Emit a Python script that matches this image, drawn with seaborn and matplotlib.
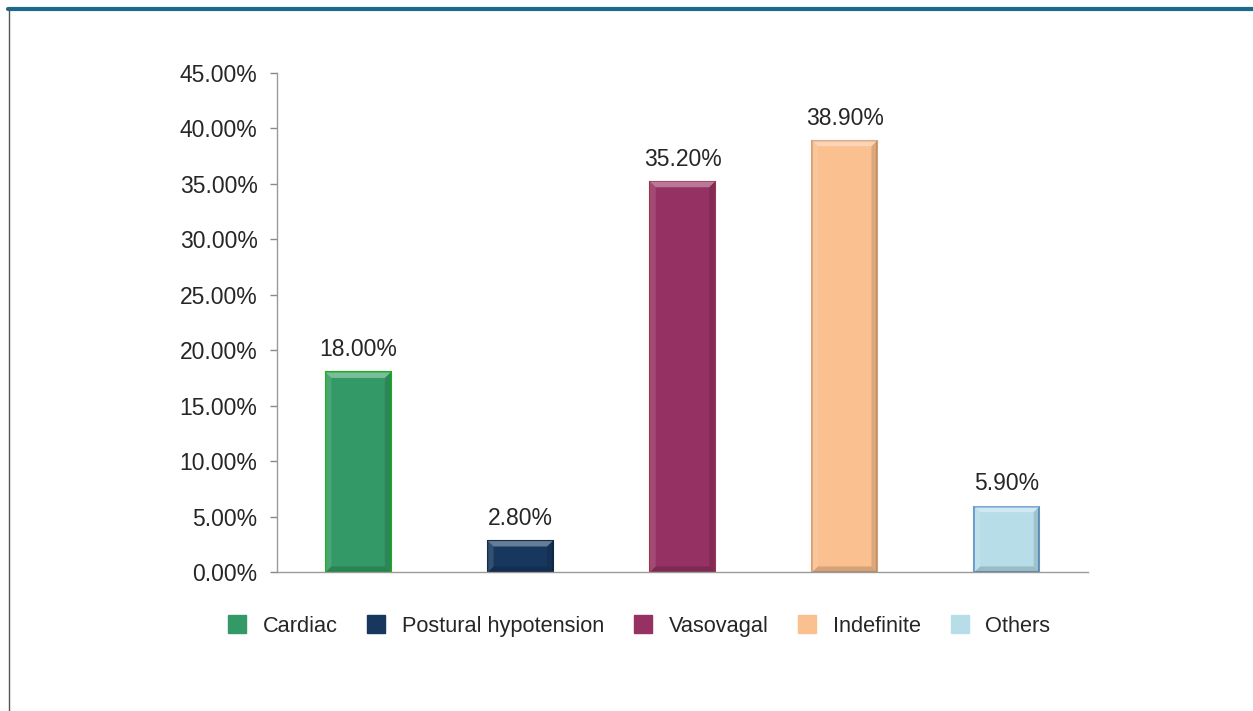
import matplotlib.pyplot as plt
import matplotlib.patches as mpatches
import matplotlib.lines as mlines
import pandas as pd
import seaborn as sns
from matplotlib.ticker import FuncFormatter, MultipleLocator

categories = ["Cardiac", "Postural hypotension", "Vasovagal", "Indefinite", "Others"]
values = [18.0, 2.8, 35.2, 38.9, 5.9]
face_colors = ["#339966", "#17375E", "#953163", "#FAC090", "#B7DEE8"]
edge_colors = ["#1FA82A", "#102A48", "#9A3550", "#D9A276", "#6A9CCB"]

df = pd.DataFrame({"category": categories, "value": values})

sns.set_style("white")
plt.rcParams["font.family"] = ["Liberation Sans", "DejaVu Sans"]
FS = 16.5

fig = plt.figure(figsize=(12.53, 7.11), dpi=100)
ax = fig.add_axes([0.2211, 0.1955, 0.6472, 0.7018])

sns.barplot(
    data=df,
    x="category",
    y="value",
    hue="category",
    palette=dict(zip(categories, face_colors)),
    saturation=1,
    width=0.4,
    legend=False,
    ax=ax,
)

ax.set_ylim(0, 45)
ax.set_xlim(-0.5, 4.5)

# bevelled look: light top / dark bottom strips inside each bar
bx = 0.035   # bevel width in x data units
by = 0.5     # bevel height in y data units
for patch, ec in zip(ax.patches, edge_colors):
    patch.set_edgecolor(ec)
    patch.set_linewidth(1.5)
    x0, y0 = patch.get_x(), patch.get_y()
    w, h = patch.get_width(), patch.get_height()
    b = min(by, h / 3)
    z = patch.get_zorder() + 0.1
    top = mpatches.Polygon([(x0, y0 + h), (x0 + w, y0 + h), (x0 + w - bx, y0 + h - b),
                            (x0 + bx, y0 + h - b)], closed=True,
                           facecolor="white", alpha=0.35, linewidth=0, zorder=z)
    bot = mpatches.Polygon([(x0, y0), (x0 + w, y0), (x0 + w - bx, y0 + b),
                            (x0 + bx, y0 + b)], closed=True,
                           facecolor="black", alpha=0.15, linewidth=0, zorder=z)
    left = mpatches.Polygon([(x0, y0), (x0, y0 + h), (x0 + bx, y0 + h - b),
                             (x0 + bx, y0 + b)], closed=True,
                            facecolor="white", alpha=0.12, linewidth=0, zorder=z)
    right = mpatches.Polygon([(x0 + w, y0), (x0 + w, y0 + h), (x0 + w - bx, y0 + h - b),
                              (x0 + w - bx, y0 + b)], closed=True,
                             facecolor="black", alpha=0.12, linewidth=0, zorder=z)
    for p in (top, bot, left, right):
        ax.add_patch(p)

for i, v in enumerate(values):
    ax.annotate(
        f"{v:.2f}%",
        (i, v),
        xytext=(0, 8),
        textcoords="offset points",
        ha="center",
        va="bottom",
        fontsize=FS,
        color="#262626",
    )

ax.yaxis.set_major_locator(MultipleLocator(5))
ax.yaxis.set_major_formatter(FuncFormatter(lambda v, _: f"{v:.2f}%"))
ax.set_xticks([])
ax.set_xlabel("")
ax.set_ylabel("")
ax.tick_params(axis="y", left=True, length=5, width=1, color="#888888",
               labelsize=FS, labelcolor="#262626", pad=9)
for side in ["top", "right"]:
    ax.spines[side].set_visible(False)
for side in ["left", "bottom"]:
    ax.spines[side].set_color("#9a9a9a")
    ax.spines[side].set_linewidth(1)

handles = [
    mlines.Line2D([], [], marker="s", linestyle="none", markersize=13.5,
                  markerfacecolor=c, markeredgecolor=c, label=cat)
    for cat, c in zip(categories, face_colors)
]
fig.legend(handles=handles, loc="center", bbox_to_anchor=(0.510, 0.119),
           ncol=5, frameon=False, fontsize=15.7, handlelength=0.85,
           handletextpad=0.75, columnspacing=1.35, labelcolor="#262626")

# page frame lines
fig.add_artist(mlines.Line2D([0.0064, 1.0], [0.9873, 0.9873], color="#1B6A8C",
                             linewidth=3, transform=fig.transFigure))
fig.add_artist(mlines.Line2D([0.0068, 0.0068], [0.0, 0.987], color="#555555",
                             linewidth=1, transform=fig.transFigure))

fig.savefig("out.png", dpi=100)
